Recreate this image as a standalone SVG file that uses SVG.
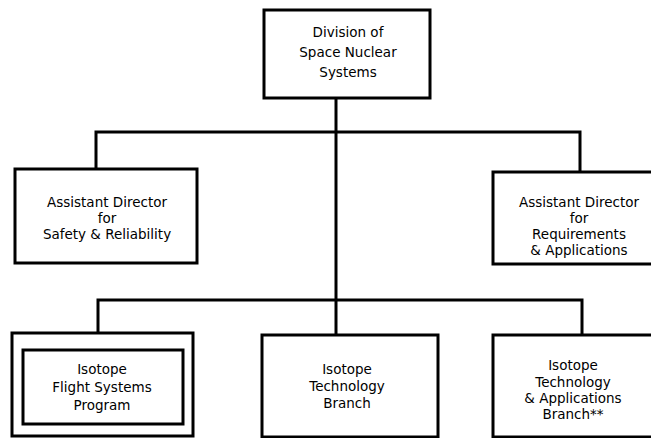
<svg xmlns="http://www.w3.org/2000/svg" width="651" height="438" viewBox="0 0 651 438">
<style>
.box{fill:#fff;stroke:#000;stroke-width:3}
.ln{fill:none;stroke:#000;stroke-width:3}
text{font-family:"DejaVu Sans","Liberation Sans",Arial,sans-serif;font-size:13.5px;fill:#000;text-anchor:middle}
</style>
<rect width="651" height="438" fill="#fff"/>
<g id="connectors">
<path class="ln" d="M336 98 V335"/>
<path class="ln" d="M96 169 V132 H580 V172"/>
<path class="ln" d="M98 333 V300 H582 V335"/>
</g>
<g id="division">
<rect class="box" x="264" y="10" width="166" height="88"/>
<text x="348" y="37">Division of</text>
<text x="348" y="57">Space Nuclear</text>
<text x="348" y="77">Systems</text>
</g>
<g id="safety">
<rect class="box" x="15" y="169" width="182" height="94"/>
<text x="107" y="207">Assistant Director</text>
<text x="107" y="223">for</text>
<text x="107" y="239">Safety &amp; Reliability</text>
</g>
<g id="requirements">
<rect class="box" x="493" y="172" width="170" height="92"/>
<text x="579" y="207">Assistant Director</text>
<text x="579" y="223">for</text>
<text x="579" y="239">Requirements</text>
<text x="579" y="255">&amp; Applications</text>
</g>
<g id="flight">
<rect class="box" x="12" y="333" width="181" height="103"/>
<rect class="box" x="23" y="350" width="160" height="74"/>
<text x="102" y="374">Isotope</text>
<text x="102" y="392">Flight Systems</text>
<text x="102" y="410">Program</text>
</g>
<g id="technology">
<rect class="box" x="262" y="335" width="176" height="102"/>
<text x="347" y="374">Isotope</text>
<text x="347" y="391">Technology</text>
<text x="347" y="408">Branch</text>
</g>
<g id="applications">
<rect class="box" x="493" y="335" width="170" height="102"/>
<text x="573" y="370">Isotope</text>
<text x="573" y="387">Technology</text>
<text x="573" y="403">&amp; Applications</text>
<text x="573" y="419">Branch**</text>
</g>
</svg>
